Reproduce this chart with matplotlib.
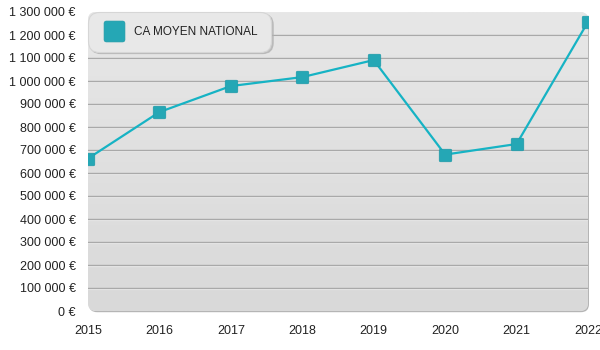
import numpy as np
import matplotlib
matplotlib.use("Agg")
import matplotlib.pyplot as plt
from matplotlib.patches import FancyBboxPatch
from matplotlib.lines import Line2D
from matplotlib.path import Path
from matplotlib.ticker import FuncFormatter, MultipleLocator

years = [2015, 2016, 2017, 2018, 2019, 2020, 2021, 2022]
ca_moyen = [663000, 865000, 978000, 1017000, 1091000, 680000, 726000, 1257000]
series_label = "CA MOYEN NATIONAL"

plt.rcParams['font.family'] = ['Liberation Sans', 'DejaVu Sans']


def rounded_square(r=0.22, n=8):
    verts = []
    corners = [(1 - r, 1 - r, 0), (-1 + r, 1 - r, 90), (-1 + r, -1 + r, 180), (1 - r, -1 + r, 270)]
    for cx, cy, a0 in corners:
        for t in np.linspace(np.radians(a0), np.radians(a0 + 90), n):
            verts.append((cx + r * np.cos(t), cy + r * np.sin(t)))
    verts.append(verts[0])
    codes = [Path.MOVETO] + [Path.LINETO] * (len(verts) - 2) + [Path.CLOSEPOLY]
    return Path(verts, codes)


rsq = rounded_square()

fig = plt.figure(figsize=(6, 3.5), dpi=100)
ax = fig.add_axes([88/600, 1-311/350, 500/600, 299/350])
ax.set_xlim(2015, 2022)
ax.set_ylim(0, 1300000)
ax.set_facecolor('none')
for s in ax.spines.values():
    s.set_visible(False)

asp = 500/299
shadow = FancyBboxPatch((0.002, -0.004), 1.0, 1.0, boxstyle="round,pad=0,rounding_size=0.016",
                        mutation_aspect=asp, transform=ax.transAxes, facecolor='#b5b5b5',
                        edgecolor='none', zorder=0, clip_on=False)
ax.add_patch(shadow)
bg = FancyBboxPatch((0, 0), 1.0, 1.0, boxstyle="round,pad=0,rounding_size=0.016",
                    mutation_aspect=asp, transform=ax.transAxes, facecolor='#e0e0e0',
                    edgecolor='none', zorder=0.5, clip_on=False)
ax.add_patch(bg)
grad = np.linspace(0, 1, 256).reshape(-1, 1)
im = ax.imshow(grad, extent=[0, 1, 0, 1], transform=ax.transAxes, aspect='auto',
               cmap=matplotlib.colors.LinearSegmentedColormap.from_list('g', ['#d9d9d9', '#e7e7e7']),
               origin='lower', zorder=0.6)
im.set_clip_path(bg)

ax.yaxis.set_major_locator(MultipleLocator(100000))
ax.xaxis.set_major_locator(MultipleLocator(1))
for v in range(100000, 1300000, 100000):
    ax.axhline(v - 4000, color='#f2f2f2', lw=0.8, zorder=1)
    ax.axhline(v, color='#a9a9a9', lw=1.0, zorder=1.1)

ax.yaxis.set_major_formatter(FuncFormatter(lambda v, p: f"{v:,.0f}".replace(',', ' ') + " €"))
ax.xaxis.set_major_formatter(FuncFormatter(lambda v, p: f"{int(v)}"))
ax.tick_params(axis='both', length=0, labelsize=9, colors='#222222')
ax.tick_params(axis='y', pad=9)
ax.tick_params(axis='x', pad=10)

ax.plot(years, ca_moyen, color='#16b3c4', lw=1.6, zorder=3)
ax.plot(years, ca_moyen, ls='none', marker=rsq, ms=9, mfc='#25a7b5', mec='#1e9aa8',
        mew=0.5, zorder=4)

handle = Line2D([], [], ls='none', marker=rsq, ms=15, mfc='#25a7b5', mec='#1e9aa8', mew=0.5)
leg = ax.legend([handle], [series_label], loc='upper left', bbox_to_anchor=(0.0, 1.0),
                borderaxespad=0, frameon=True, fancybox=True,
                shadow={'ox': 1.5, 'oy': -1.5, 'color': '#b0b0b0', 'alpha': 0.7},
                facecolor='#e8e8e8', edgecolor='#d6d6d6', framealpha=1,
                fontsize=8.5, borderpad=1.165, handletextpad=0.58, handlelength=2.14,
                labelcolor='#222222')
leg.get_frame().set_linewidth(0.8)
leg.get_frame().set_boxstyle("round,pad=0,rounding_size=0.9")
leg.set_zorder(5)

fig.savefig("out.png", dpi=100)
